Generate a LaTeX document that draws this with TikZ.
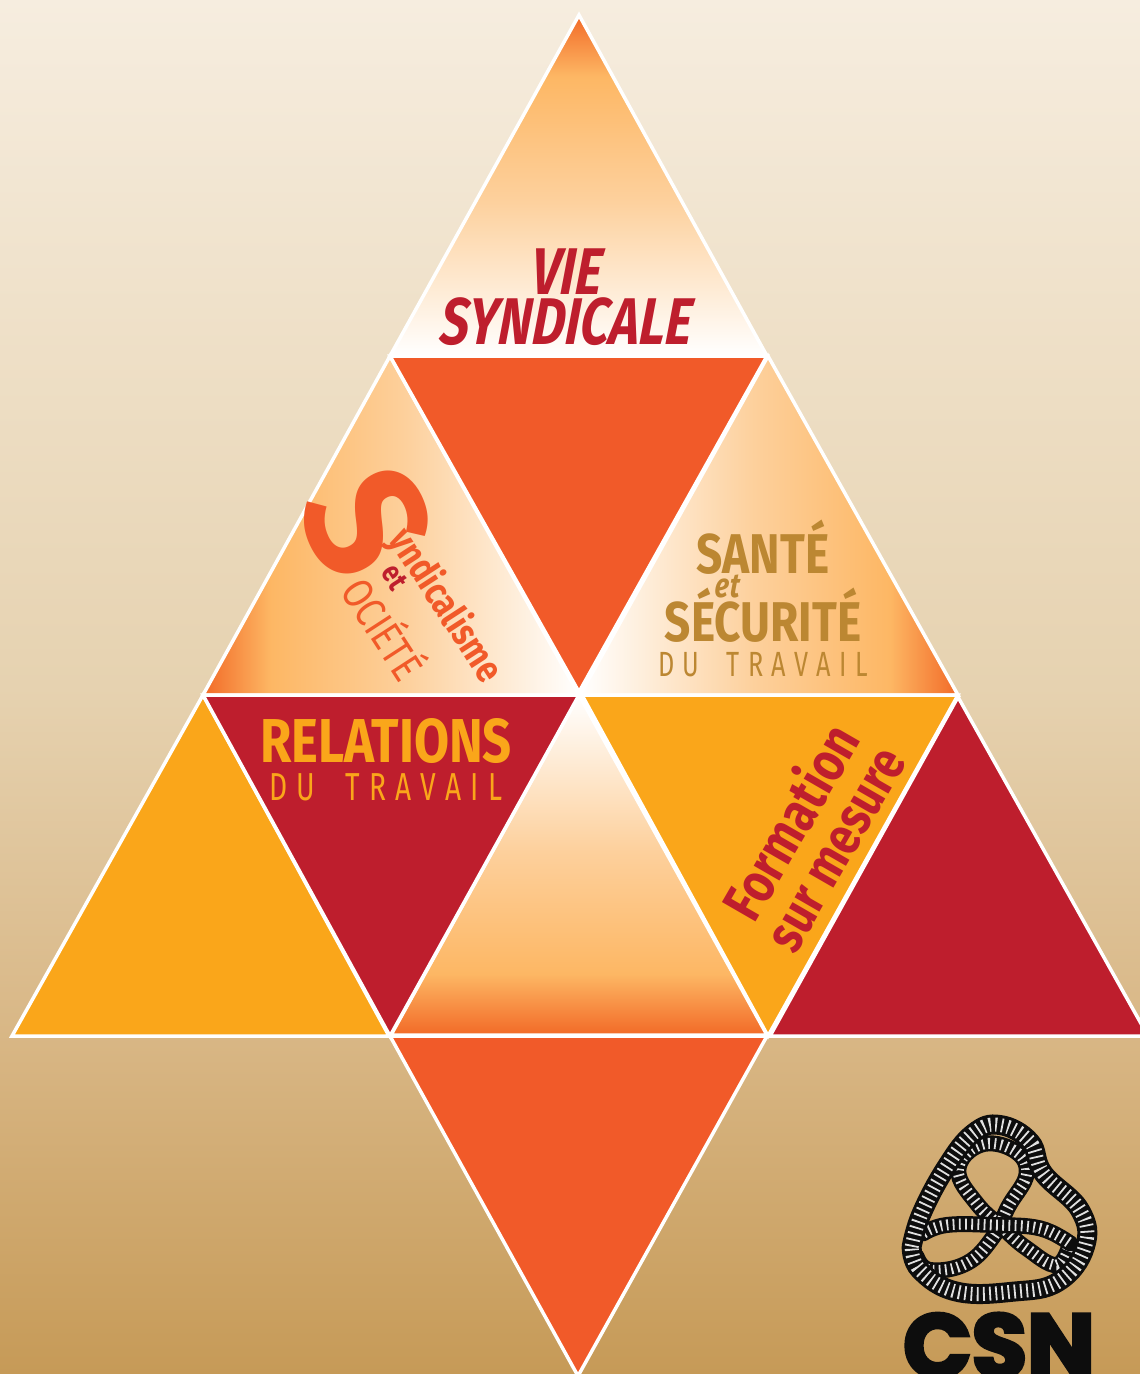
\documentclass[tikz,border=0pt]{standalone}
\usepackage{fontspec}
\setmainfont{Fira Sans}
\newfontface\condbold[FakeStretch=.82]{Fira Sans Bold}
\newfontface\widebold[FakeStretch=.95]{Fira Sans Bold}
\newfontface\condboldit[FakeStretch=.78,FakeSlant=.08]{Fira Sans Bold Italic}
\newfontface\condlight[FakeStretch=.82]{Fira Sans}
\newfontface\spacedlight[FakeStretch=.72,LetterSpace=24,WordSpace=1.8]{Fira Sans}
\newfontface\logofont[FakeBold=4]{Poppins Bold}
\definecolor{warmorange}{HTML}{F26A27}
\definecolor{warmmid}{HTML}{FDB764}
\definecolor{warmpale}{HTML}{FDD09C}
\definecolor{flame}{HTML}{F15A29}
\definecolor{crimson}{HTML}{BE1E2D}
\definecolor{amber}{HTML}{FAA61A}
\definecolor{ochre}{HTML}{BC8732}
\definecolor{tanA}{HTML}{C69A57}
\definecolor{tanB}{HTML}{D8B684}
\definecolor{tanC}{HTML}{E6D2B0}
\definecolor{tanD}{HTML}{EEDFC6}
\definecolor{tanE}{HTML}{F6EDDF}
\pgfdeclareverticalshading{pagetan}{100bp}{color(0bp)=(tanA);color(25bp)=(tanA);color(37bp)=(tanB);color(50bp)=(tanC);color(62bp)=(tanD);color(75bp)=(tanE);color(100bp)=(tanE)}
\pgfdeclarehorizontalshading{warmfade}{100bp}{color(0bp)=(warmorange);color(25bp)=(warmorange);color(34bp)=(warmmid);color(52bp)=(warmpale);color(75bp)=(white);color(100bp)=(white)}
\tikzset{
  triline/.style={draw=white,line width=3.5pt,miter limit=20},
  fadetri/.style={triline,shading=warmfade,shading angle=#1},
  heading/.style={inner sep=0pt,align=center},
  ropeback/.style={draw=black!95,line width=#1,line cap=round},
  roperib/.style={draw=black!12,line width=#1,dash pattern=on 1.8pt off 4.4pt}
}
\newcommand{\ropestrand}[3]{%
  \draw[ropeback=#1] plot[smooth,tension=.7] coordinates {#3};
  \draw[roperib=#2] plot[smooth,tension=.7] coordinates {#3};
}
\begin{document}
\begin{tikzpicture}[x=1pt,y=-1pt]
  \useasboundingbox (0,0) rectangle (1140,1374);
  \clip (0,0) rectangle (1140,1374);
  \shade[shading=pagetan] (0,0) rectangle (1140,1374);
  % gradient triangles
  \path[fadetri=270] (579,15) -- (767,356) -- (390,356) -- cycle;
  \path[fadetri=0] (390,356) -- (579,695) -- (203,695) -- cycle;
  \path[fadetri=180] (768,356) -- (958,695) -- (580,695) -- cycle;
  \path[fadetri=90] (579,695) -- (767,1035) -- (391,1035) -- cycle;
  % flat triangles
  \path[triline,fill=flame] (390,356) -- (767,356) -- (579,692) -- cycle;
  \path[triline,fill=amber] (203,695) -- (389,1036) -- (12,1036) -- cycle;
  \path[triline,fill=crimson] (203,695) -- (579,695) -- (390,1036) -- cycle;
  \path[triline,fill=amber] (582,695) -- (958,695) -- (768,1036) -- cycle;
  \path[triline,fill=crimson] (958,697) -- (1148,1036) -- (770,1036) -- cycle;
  \path[triline,fill=flame] (390,1036) -- (767,1036) -- (578,1376) -- cycle;
  % labels
  \node[heading,text=crimson] (vie) at (566,272) {\fontsize{66}{66}\condboldit VIE};
  \node[heading,text=crimson] (syndicale) at (565,322) {\fontsize{66}{66}\condboldit SYNDICALE};
  \node[heading,text=ochre] (sante) at (763,547) {\fontsize{56}{56}\condbold SANTÉ};
  \node[heading,text=ochre] (etsante) at (727,586) {\fontsize{34}{34}\condboldit et};
  \node[heading,text=ochre] (securite) at (763,615) {\fontsize{56}{56}\condbold SÉCURITÉ};
  \node[heading,text=ochre] (dusante) at (763,665) {\fontsize{35}{35}\spacedlight DU TRAVAIL};
  \node[heading,text=amber] (relations) at (386,741) {\fontsize{62}{62}\condbold RELATIONS};
  \node[heading,text=amber] (durelations) at (386,787) {\fontsize{39}{39}\spacedlight DU TRAVAIL};
  \node[heading,text=flame,rotate=-64] (bigs) at (367,522) {\fontsize{168}{168}\widebold S};
  \node[heading,text=flame,rotate=-57] (yndicalisme) at (445,606) {\fontsize{39}{39}\condbold yndicalisme};
  \node[heading,text=crimson,rotate=-57] (etsoc) at (395,577) {\fontsize{30}{30}\condbold et};
  \node[heading,text=flame,rotate=-57] (ociete) at (386,627) {\fontsize{43}{43}\condlight OCIÉTÉ};
  \node[heading,text=crimson,rotate=60] (formation) at (789,821) {\fontsize{56}{56}\condbold Formation};
  \node[heading,text=crimson,rotate=60] (surmesure) at (839,851) {\fontsize{54}{54}\condbold sur mesure};
  % logo
  \begin{scope}[shift={(880,1100)},x=.3333pt,y=-.3333pt]
    \ropestrand{16pt}{11pt}{(570,430) (530,495) (440,445) (370,385) (290,310) (235,210) (300,135) (400,150) (440,220) (385,320) (340,410) (260,490) (150,510) (110,470)}
    \ropestrand{16pt}{11pt}{(130,400) (200,375) (340,375) (480,385) (570,430)}
    \ropestrand{20pt}{14pt}{(95,440) (125,340) (200,200) (280,100) (360,75) (450,125) (490,220) (600,330) (615,440) (535,545) (400,575) (230,575) (120,510) (95,440)}
  \end{scope}
  \node[inner sep=0pt,text=black!95,anchor=north] (csn) at (999,1313) {\fontsize{90}{90}\logofont CSN};
\end{tikzpicture}
\end{document}
